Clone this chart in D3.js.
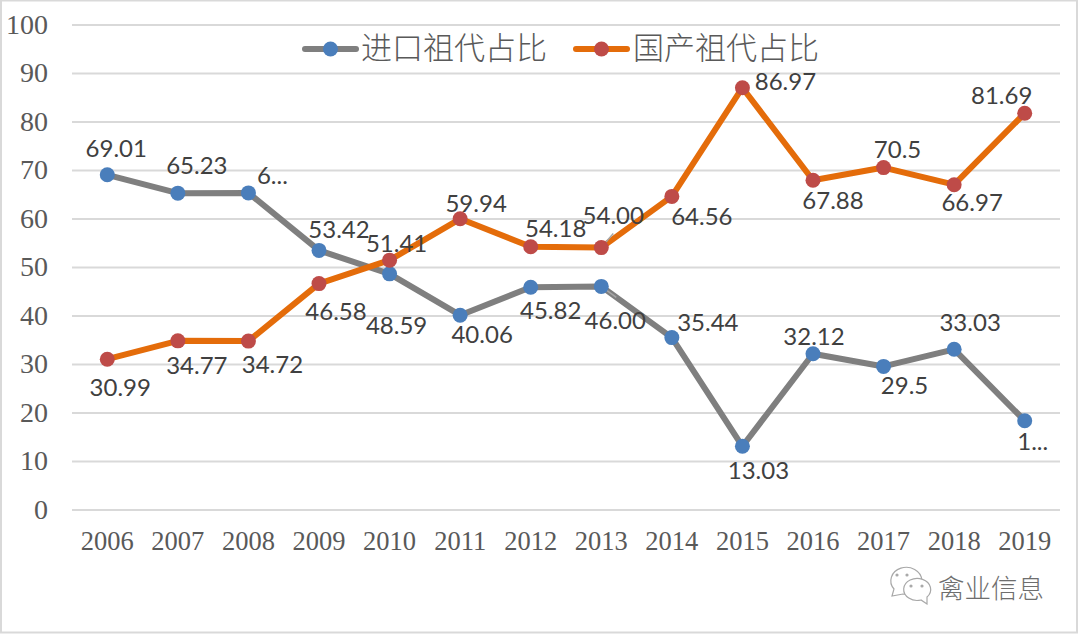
<!DOCTYPE html>
<html><head><meta charset="utf-8">
<script src="https://cdn.jsdelivr.net/npm/d3@7/dist/d3.min.js"></script>
<style>html,body{margin:0;padding:0;background:#fff}svg{display:block}</style>
</head><body><svg id="c" width="1080" height="636"></svg>
<script>
const years=[2006,2007,2008,2009,2010,2011,2012,2013,2014,2015,2016,2017,2018,2019];
const seriesNames=["进口祖代占比","国产祖代占比"];
const importValues=[69.01,65.23,65.28,53.42,48.59,40.06,45.82,46.00,35.44,13.03,32.12,29.5,33.03,18.31];
const domesticValues=[30.99,34.77,34.72,46.58,51.41,59.94,54.18,54.00,64.56,86.97,67.88,70.5,66.97,81.69];
const importLabels=["69.01","65.23","6...","53.42","48.59","40.06","45.82","46.00","35.44","13.03","32.12","29.5","33.03","1..."];
const domesticLabels=["30.99","34.77","34.72","46.58","51.41","59.94","54.18","54.00","64.56","86.97","67.88","70.5","66.97","81.69"];
const yTicks=[0,10,20,30,40,50,60,70,80,90,100];
const watermark="禽业信息";
// label placement relative to each point, in px
const importOffsets=[[9,-26],[19,-28],[24,-17],[20,-21],[7,52],[22,19],[20,23],[14,34],[36,-15],[16,24],[1,-17],[21,19],[16,-27],[8,21]];
const domesticOffsets=[[13,28],[19,25],[24,23],[17,28],[7,-17],[16,-15],[25,-18],[12,-32],[30,20],[43,-6],[20,20],[14,-18],[18,18],[-23,-18]];

const svg=d3.select("#c");
const x=d3.scaleBand().domain(years).range([72,1060]);
const y=d3.scaleLinear().domain([0,100]).range([509.5,24.5]);
const cx=d=>x(d)+x.bandwidth()/2;
const GRID="#d9d9d9",TXT="#595959",LBL="#404040";
const GREY="#7f7f7f",ORG="#e46c0a",BLUE="#4a7ebb",RED="#be4b48";

// outer frame
svg.append("rect").attr("x",1).attr("y",0.5).attr("width",1076).attr("height",632)
  .attr("fill","#fff").attr("stroke",GRID).attr("stroke-width",2);

// axes
const yAxis=d3.axisLeft(y).tickValues(yTicks).tickSize(-988).tickPadding(24);
const gy=svg.append("g").attr("transform","translate(72,0)").call(yAxis);
gy.select(".domain").remove();
gy.selectAll("line").attr("stroke",GRID).attr("stroke-width",2);
gy.selectAll("text").attr("font-family","'Liberation Serif'").attr("font-size",28).attr("fill",TXT).attr("dy","0.32em");

const xAxis=d3.axisBottom(x).tickSize(0).tickPadding(21);
const gx=svg.append("g").attr("transform","translate(0,510)").call(xAxis);
gx.select(".domain").remove();
gx.selectAll("text").attr("font-family","'Liberation Serif'").attr("font-size",26.5).attr("fill",TXT);

const line=d3.line().x((d,i)=>cx(years[i])).y(d=>y(d));
const series=[
 {vals:importValues,labels:importLabels,offs:importOffsets,stroke:GREY,fill:BLUE},
 {vals:domesticValues,labels:domesticLabels,offs:domesticOffsets,stroke:ORG,fill:RED}];

series.forEach(s=>{
  svg.append("path").datum(s.vals).attr("d",line).attr("fill","none")
    .attr("stroke",s.stroke).attr("stroke-width",6).attr("stroke-linejoin","round").attr("stroke-linecap","round");
});
// leader lines for the 2013 labels
const i13=years.indexOf(2013);
[[importValues[i13],15,11],[domesticValues[i13],12,-14]].forEach(([v,dx,dy])=>{
  svg.append("line").attr("x1",cx(2013)).attr("y1",y(v)).attr("x2",cx(2013)+dx).attr("y2",y(v)+dy)
    .attr("stroke","#a6a6a6").attr("stroke-width",1.5);
});
series.forEach(s=>{
  svg.append("g").selectAll("circle").data(s.vals).join("circle")
    .attr("cx",(d,i)=>cx(years[i])).attr("cy",d=>y(d)).attr("r",7.5).attr("fill",s.fill);
});
series.forEach(s=>{
  svg.append("g").selectAll("text").data(s.vals).join("text")
    .attr("x",(d,i)=>cx(years[i])+s.offs[i][0]).attr("y",(d,i)=>y(d)+s.offs[i][1])
    .attr("text-anchor","middle").attr("dy","0.35em")
    .attr("font-family","Lato,'Open Sans',sans-serif").attr("font-size",24).attr("fill",LBL)
    .text((d,i)=>s.labels[i]);
});

// legend
const lg=[{x0:303,s:series[0],tx:361},{x0:574,s:series[1],tx:633}];
lg.forEach((l,i)=>{
  svg.append("line").attr("x1",l.x0+2).attr("x2",l.x0+53).attr("y1",49).attr("y2",49)
    .attr("stroke",l.s.stroke).attr("stroke-width",6).attr("stroke-linecap","round");
  svg.append("circle").attr("cx",l.x0+27.5).attr("cy",49).attr("r",7.5).attr("fill",l.s.fill);
  svg.append("text").attr("x",l.tx).attr("y",59).attr("font-family","'Noto Sans CJK SC'").attr("font-weight",300)
    .attr("font-size",31).attr("fill",TXT).text(seriesNames[i]);
});

// watermark
const wm=svg.append("g").attr("fill","#fff").attr("stroke","#a8a8a8").attr("stroke-width",1.2);
wm.append("path").attr("d","M892 596 l2 -7 a15.5 13.5 0 1 1 9 5 z");
wm.append("path").attr("d","M927 604 l-6 -4 a13.5 11 0 1 1 6 -3 z");
[[897,575],[907,575],[911,586],[922,586]].forEach(p=>wm.append("circle").attr("cx",p[0]).attr("cy",p[1]).attr("r",1).attr("fill","#a0a0a0"));
svg.append("text").attr("x",938).attr("y",598).attr("font-family","'Noto Sans CJK SC'").attr("font-weight",300)
  .attr("font-size",26.5).attr("fill","#6e6e6e").text(watermark);
</script></body></html>
